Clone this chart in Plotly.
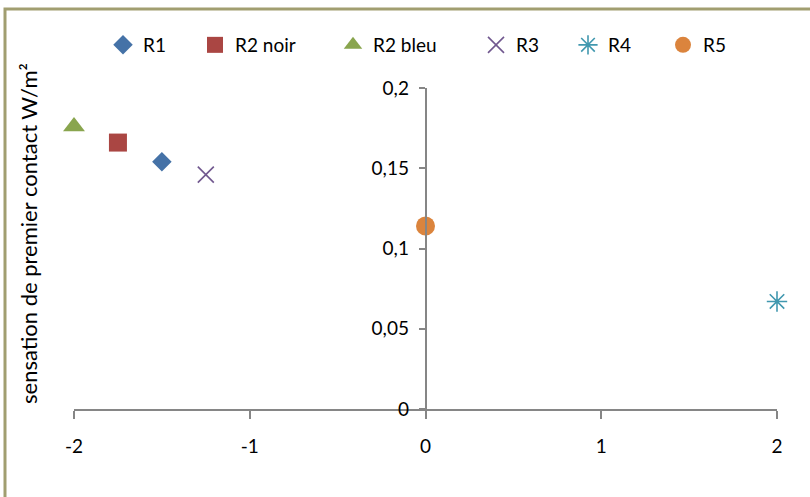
import plotly.graph_objects as go

# ---- data ----
series_names = ["R1", "R2 noir", "R2 bleu", "R3", "R4", "R5"]
x_values = [-1.5, -1.75, -2.0, -1.25, 2.0, 0.0]
y_values = [0.154, 0.166, 0.176, 0.146, 0.067, 0.114]
colors = ["#4572A7", "#AA4643", "#89A54E", "#71588F", "#4198AF", "#DB843D"]
symbols = ["diamond", "square", "triangle-up", "x-thin-open", "asterisk-open", "circle"]
sizes = [15, 18, 19, 16, 17, 19]

x_tick_vals = [-2, -1, 0, 1, 2]
x_tick_text = ["-2", "-1", "0", "1", "2"]
y_tick_vals = [0, 0.05, 0.1, 0.15, 0.2]
y_tick_text = ["0", "0,05", "0,1", "0,15", "0,2"]
y_title = "sensation de premier contact W/m²"

# ---- layout geometry ----
W, H = 810, 497
L, R, T, B = 74, 33, 88, 88
pw, ph = W - L - R, H - T - B
legend_marker_px = [123, 215, 353, 496, 588, 683]

FONT = "Lato"

fig = go.Figure()
for i, name in enumerate(series_names):
    open_sym = symbols[i].endswith("open")
    fig.add_trace(go.Scatter(
        x=[x_values[i]], y=[y_values[i]], mode="markers", name=name,
        cliponaxis=False,
        legend="legend" if i == 0 else f"legend{i+1}",
        marker=dict(symbol=symbols[i], size=sizes[i], color=colors[i],
                    line=dict(color=colors[i], width=1.6 if open_sym else 0)),
    ))

legends = {}
for i in range(len(series_names)):
    key = "legend" if i == 0 else f"legend{i+1}"
    legends[key] = dict(
        orientation="h", x=(legend_marker_px[i] - L - 20) / pw, xanchor="left",
        y=(H - B - 45) / ph, yanchor="middle", bgcolor="rgba(0,0,0,0)",
        font=dict(family=FONT, size=19, color="#000000"), borderwidth=0,
    )

fig.update_layout(
    width=W, height=H,
    margin=dict(l=L, r=R, t=T, b=B),
    paper_bgcolor="white", plot_bgcolor="white",
    showlegend=True,
    font=dict(family=FONT, color="#000000"),
    xaxis=dict(range=[-2, 2], tickvals=x_tick_vals, ticktext=x_tick_text,
               showgrid=False, zeroline=False, showline=True,
               linecolor="#868686", linewidth=1.5,
               ticks="outside", ticklen=8, tickcolor="#868686", tickwidth=1.5,
               tickfont=dict(family=FONT, size=19, color="#000000"),
               ticklabelstandoff=11),
    yaxis=dict(range=[0, 0.2], tickvals=y_tick_vals, ticktext=y_tick_text,
               anchor="free", position=0.5,
               showgrid=False, zeroline=False, showline=True,
               linecolor="#868686", linewidth=1.5,
               ticks="outside", ticklen=6, tickcolor="#868686", tickwidth=1.5,
               tickfont=dict(family=FONT, size=19, color="#000000"),
               ticklabelstandoff=6),
    annotations=[dict(
        text=y_title, textangle=-90, xref="paper", yref="paper",
        x=(28 - L) / pw, y=(H - B - 234) / ph, xanchor="center", yanchor="middle",
        showarrow=False, font=dict(family=FONT, size=22, color="#000000"))],
    shapes=[dict(type="rect", xref="paper", yref="paper", layer="below",
                 x0=(5 - L) / pw, x1=(W + 6 - L) / pw,
                 y0=(H - B - (H + 8)) / ph, y1=(H - B - 9) / ph,
                 line=dict(color="#A19E70", width=3), fillcolor="rgba(0,0,0,0)")],
    **legends,
)

fig.write_html("out.html", config={"displayModeBar": False},
               post_script="document.body.style.margin='0';")
